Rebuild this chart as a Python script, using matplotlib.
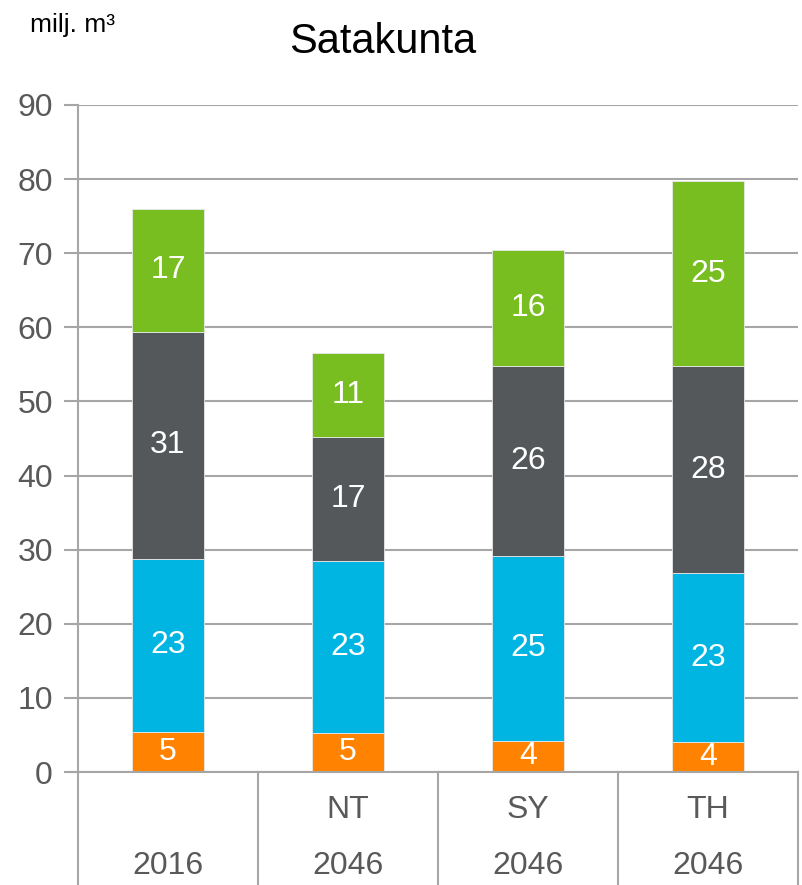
import matplotlib
matplotlib.use("Agg")
import matplotlib.pyplot as plt
import numpy as np

plt.rcParams['font.family'] = ['Liberation Sans', 'DejaVu Sans']

# scenario columns: year row and scenario row
years = ["2016", "2046", "2046", "2046"]
scenarios = ["", "NT", "SY", "TH"]

# stacked components, bottom to top (milj. m3)
orange = [5.4, 5.3, 4.2, 4.0]
blue = [23.4, 23.2, 25.0, 22.8]
dark = [30.6, 16.7, 25.6, 28.0]
green = [16.6, 11.3, 15.6, 24.9]

colors = ["#FF8200", "#00B5E2", "#54585A", "#78BE20"]
grid_col = "#A6A6A6"
text_col = "#595959"

fig = plt.figure(figsize=(8.03, 8.85), dpi=100)
ax = fig.add_axes([78 / 803, 113 / 885, 720 / 803, 667 / 885])

x = np.arange(len(years))
bottom = np.zeros(len(years))
for vals, col in zip([orange, blue, dark, green], colors):
    bars = ax.bar(x, vals, 0.4, bottom=bottom, color=col,
                  edgecolor="#E8E8E8", linewidth=0.6, zorder=3)
    ax.bar_label(bars, fmt="%.0f", label_type="center", color="white",
                 fontsize=23)
    bottom += np.array(vals)

ax.set_xlim(-0.5, 3.5)
ax.set_ylim(0, 90)
ax.set_yticks(range(0, 91, 10))
ax.yaxis.grid(True, color=grid_col, linewidth=1.5, zorder=0)
ax.tick_params(axis="y", length=10, width=1.5, color=grid_col,
               labelcolor=text_col, labelsize=23, pad=8)
ax.set_xticks([])
for side in ["top", "right", "bottom"]:
    ax.spines[side].set_visible(False)
ax.spines["left"].set_color(grid_col)
ax.spines["left"].set_linewidth(1.5)

# two-row category axis below the plot
tr = ax.get_xaxis_transform()
ax.plot([-0.5 - 10 / 180, 3.5], [0, 0], color=grid_col, lw=1.5,
        transform=tr, clip_on=False, zorder=4)
for sx in [-0.5, 0.5, 1.5, 2.5, 3.5]:
    ax.plot([sx, sx], [0, -0.17], color=grid_col, lw=1.5,
            transform=tr, clip_on=False)
for i in range(len(years)):
    ax.text(i, -0.057, scenarios[i], transform=tr, ha="center", va="center",
            fontsize=23, color=text_col)
    ax.text(i, -0.141, years[i], transform=tr, ha="center", va="center",
            fontsize=23, color=text_col)

fig.text(383 / 803, 1 - 42 / 885, "Satakunta", ha="center", va="center",
         fontsize=30, color="black")
fig.text(30 / 803, 1 - 25 / 885, "milj. m³", ha="left", va="center",
         fontsize=19, color="black")

fig.savefig("out.png", dpi=100)
